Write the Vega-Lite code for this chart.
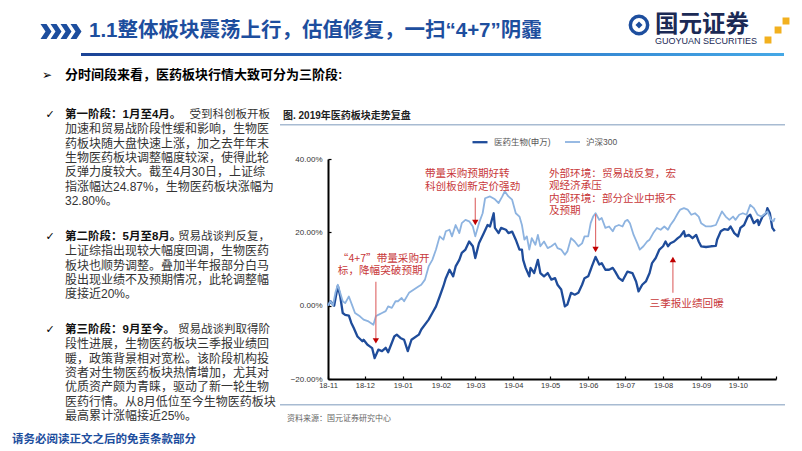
{
"$schema": "https://vega.github.io/schema/vega-lite/v6.json",
"padding": 0,
"background": "white",
"spacing": 0,
"resolve": {"scale": {"color": "independent", "strokeWidth": "independent", "shape": "independent"}},
"config": {"view": {"stroke": null}, "concat": {"spacing": 0}, "font": "Liberation Sans, Noto Sans CJK SC"},
"datasets": {
"prices": [
{"date":"2018-11-01","series":"医药生物(申万)","value":0},{"date":"2018-11-03","series":"医药生物(申万)","value":1.2},{"date":"2018-11-06","series":"医药生物(申万)","value":0},{"date":"2018-11-09","series":"医药生物(申万)","value":5.4},{"date":"2018-11-11","series":"医药生物(申万)","value":2.5},{"date":"2018-11-13","series":"医药生物(申万)","value":-2},{"date":"2018-11-15","series":"医药生物(申万)","value":-2.5},{"date":"2018-11-18","series":"医药生物(申万)","value":-2.7},{"date":"2018-11-20","series":"医药生物(申万)","value":-4.7},{"date":"2018-11-22","series":"医药生物(申万)","value":-6.1},{"date":"2018-11-25","series":"医药生物(申万)","value":-8.4},{"date":"2018-11-29","series":"医药生物(申万)","value":-9.7},{"date":"2018-11-30","series":"医药生物(申万)","value":-9.3},{"date":"2018-12-03","series":"医药生物(申万)","value":-10.6},{"date":"2018-12-05","series":"医药生物(申万)","value":-11.1},{"date":"2018-12-07","series":"医药生物(申万)","value":-11.6},{"date":"2018-12-09","series":"医药生物(申万)","value":-14.3},{"date":"2018-12-12","series":"医药生物(申万)","value":-12},{"date":"2018-12-15","series":"医药生物(申万)","value":-12.4},{"date":"2018-12-18","series":"医药生物(申万)","value":-11.5},{"date":"2018-12-20","series":"医药生物(申万)","value":-12.7},{"date":"2018-12-25","series":"医药生物(申万)","value":-8.4},{"date":"2018-12-27","series":"医药生物(申万)","value":-7.9},{"date":"2018-12-30","series":"医药生物(申万)","value":-8.8},{"date":"2019-01-02","series":"医药生物(申万)","value":-9.3},{"date":"2019-01-05","series":"医药生物(申万)","value":-12.4},{"date":"2019-01-08","series":"医药生物(申万)","value":-9.3},{"date":"2019-01-14","series":"医药生物(申万)","value":-7.9},{"date":"2019-01-16","series":"医药生物(申万)","value":-6.5},{"date":"2019-01-22","series":"医药生物(申万)","value":-3.8},{"date":"2019-01-25","series":"医药生物(申万)","value":-2},{"date":"2019-01-28","series":"医药生物(申万)","value":-0.2},{"date":"2019-01-31","series":"医药生物(申万)","value":2.5},{"date":"2019-02-03","series":"医药生物(申万)","value":5.3},{"date":"2019-02-05","series":"医药生物(申万)","value":7.5},{"date":"2019-02-08","series":"医药生物(申万)","value":9.8},{"date":"2019-02-11","series":"医药生物(申万)","value":8},{"date":"2019-02-13","series":"医药生物(申万)","value":10.7},{"date":"2019-02-16","series":"医药生物(申万)","value":12.5},{"date":"2019-02-18","series":"医药生物(申万)","value":14.4},{"date":"2019-02-21","series":"医药生物(申万)","value":15.3},{"date":"2019-02-24","series":"医药生物(申万)","value":17.5},{"date":"2019-02-27","series":"医药生物(申万)","value":16.2},{"date":"2019-03-01","series":"医药生物(申万)","value":13},{"date":"2019-03-04","series":"医药生物(申万)","value":17},{"date":"2019-03-08","series":"医药生物(申万)","value":19.8},{"date":"2019-03-11","series":"医药生物(申万)","value":22},{"date":"2019-03-13","series":"医药生物(申万)","value":21.6},{"date":"2019-03-16","series":"医药生物(申万)","value":25.2},{"date":"2019-03-17","series":"医药生物(申万)","value":21.2},{"date":"2019-03-20","series":"医药生物(申万)","value":19.8},{"date":"2019-03-22","series":"医药生物(申万)","value":21.2},{"date":"2019-03-26","series":"医药生物(申万)","value":20.7},{"date":"2019-03-28","series":"医药生物(申万)","value":19.8},{"date":"2019-03-31","series":"医药生物(申万)","value":20.2},{"date":"2019-04-03","series":"医药生物(申万)","value":18},{"date":"2019-04-06","series":"医药生物(申万)","value":15.3},{"date":"2019-04-08","series":"医药生物(申万)","value":15.3},{"date":"2019-04-09","series":"医药生物(申万)","value":12.5},{"date":"2019-04-11","series":"医药生物(申万)","value":10.3},{"date":"2019-04-14","series":"医药生物(申万)","value":8},{"date":"2019-04-15","series":"医药生物(申万)","value":10.3},{"date":"2019-04-18","series":"医药生物(申万)","value":8.9},{"date":"2019-04-21","series":"医药生物(申万)","value":12.5},{"date":"2019-04-23","series":"医药生物(申万)","value":8.9},{"date":"2019-04-26","series":"医药生物(申万)","value":8},{"date":"2019-04-29","series":"医药生物(申万)","value":8.9},{"date":"2019-05-02","series":"医药生物(申万)","value":7.1},{"date":"2019-05-05","series":"医药生物(申万)","value":7.5},{"date":"2019-05-07","series":"医药生物(申万)","value":5.7},{"date":"2019-05-10","series":"医药生物(申万)","value":4.4},{"date":"2019-05-13","series":"医药生物(申万)","value":-0.2},{"date":"2019-05-15","series":"医药生物(申万)","value":0.3},{"date":"2019-05-18","series":"医药生物(申万)","value":3.5},{"date":"2019-05-21","series":"医药生物(申万)","value":3},{"date":"2019-05-24","series":"医药生物(申万)","value":3.5},{"date":"2019-05-27","series":"医药生物(申万)","value":5.7},{"date":"2019-05-29","series":"医药生物(申万)","value":7.5},{"date":"2019-06-01","series":"医药生物(申万)","value":8},{"date":"2019-06-03","series":"医药生物(申万)","value":9.8},{"date":"2019-06-04","series":"医药生物(申万)","value":10.7},{"date":"2019-06-07","series":"医药生物(申万)","value":13.3},{"date":"2019-06-10","series":"医药生物(申万)","value":11.2},{"date":"2019-06-12","series":"医药生物(申万)","value":11.6},{"date":"2019-06-15","series":"医药生物(申万)","value":9.8},{"date":"2019-06-18","series":"医药生物(申万)","value":9.8},{"date":"2019-06-21","series":"医药生物(申万)","value":10.3},{"date":"2019-06-23","series":"医药生物(申万)","value":9.3},{"date":"2019-06-26","series":"医药生物(申万)","value":7.5},{"date":"2019-06-29","series":"医药生物(申万)","value":6.8},{"date":"2019-07-03","series":"医药生物(申万)","value":9.3},{"date":"2019-07-07","series":"医药生物(申万)","value":8.9},{"date":"2019-07-10","series":"医药生物(申万)","value":6.6},{"date":"2019-07-12","series":"医药生物(申万)","value":3.9},{"date":"2019-07-15","series":"医药生物(申万)","value":5.7},{"date":"2019-07-18","series":"医药生物(申万)","value":6.6},{"date":"2019-07-21","series":"医药生物(申万)","value":8.9},{"date":"2019-07-23","series":"医药生物(申万)","value":11.6},{"date":"2019-07-26","series":"医药生物(申万)","value":13},{"date":"2019-07-29","series":"医药生物(申万)","value":15.3},{"date":"2019-08-01","series":"医药生物(申万)","value":16.2},{"date":"2019-08-03","series":"医药生物(申万)","value":17.5},{"date":"2019-08-05","series":"医药生物(申万)","value":16.2},{"date":"2019-08-07","series":"医药生物(申万)","value":17},{"date":"2019-08-10","series":"医药生物(申万)","value":17.5},{"date":"2019-08-13","series":"医药生物(申万)","value":18.4},{"date":"2019-08-15","series":"医药生物(申万)","value":18.9},{"date":"2019-08-18","series":"医药生物(申万)","value":20.3},{"date":"2019-08-19","series":"医药生物(申万)","value":18.9},{"date":"2019-08-22","series":"医药生物(申万)","value":19.3},{"date":"2019-08-25","series":"医药生物(申万)","value":18.4},{"date":"2019-08-28","series":"医药生物(申万)","value":19.3},{"date":"2019-08-30","series":"医药生物(申万)","value":17.5},{"date":"2019-09-01","series":"医药生物(申万)","value":16.2},{"date":"2019-09-05","series":"医药生物(申万)","value":16},{"date":"2019-09-09","series":"医药生物(申万)","value":16.2},{"date":"2019-09-13","series":"医药生物(申万)","value":16.3},{"date":"2019-09-14","series":"医药生物(申万)","value":18},{"date":"2019-09-17","series":"医药生物(申万)","value":20.3},{"date":"2019-09-20","series":"医药生物(申万)","value":20.9},{"date":"2019-09-23","series":"医药生物(申万)","value":20.7},{"date":"2019-09-25","series":"医药生物(申万)","value":21.6},{"date":"2019-09-28","series":"医药生物(申万)","value":19.8},{"date":"2019-10-01","series":"医药生物(申万)","value":18.9},{"date":"2019-10-03","series":"医药生物(申万)","value":21.2},{"date":"2019-10-06","series":"医药生物(申万)","value":22},{"date":"2019-10-09","series":"医药生物(申万)","value":24.3},{"date":"2019-10-11","series":"医药生物(申万)","value":24.8},{"date":"2019-10-14","series":"医药生物(申万)","value":22.5},{"date":"2019-10-17","series":"医药生物(申万)","value":23.4},{"date":"2019-10-18","series":"医药生物(申万)","value":22},{"date":"2019-10-21","series":"医药生物(申万)","value":24.3},{"date":"2019-10-24","series":"医药生物(申万)","value":25.2},{"date":"2019-10-25","series":"医药生物(申万)","value":26.6},{"date":"2019-10-27","series":"医药生物(申万)","value":25.2},{"date":"2019-10-29","series":"医药生物(申万)","value":21.2},{"date":"2019-10-31","series":"医药生物(申万)","value":20.3},
{"date":"2018-11-01","series":"沪深300","value":0},{"date":"2018-11-03","series":"沪深300","value":1.2},{"date":"2018-11-05","series":"沪深300","value":0},{"date":"2018-11-07","series":"沪深300","value":3.5},{"date":"2018-11-09","series":"沪深300","value":5.7},{"date":"2018-11-13","series":"沪深300","value":1.2},{"date":"2018-11-15","series":"沪深300","value":0.7},{"date":"2018-11-18","series":"沪深300","value":2.5},{"date":"2018-11-21","series":"沪深300","value":-0.2},{"date":"2018-11-23","series":"沪深300","value":-2},{"date":"2018-11-27","series":"沪深300","value":-2.9},{"date":"2018-11-30","series":"沪深300","value":-3.8},{"date":"2018-12-04","series":"沪深300","value":-4.3},{"date":"2018-12-08","series":"沪深300","value":-5.2},{"date":"2018-12-10","series":"沪深300","value":-2.9},{"date":"2018-12-12","series":"沪深300","value":-2.5},{"date":"2018-12-15","series":"沪深300","value":-2},{"date":"2018-12-18","series":"沪深300","value":-1.5},{"date":"2018-12-20","series":"沪深300","value":-0.2},{"date":"2018-12-23","series":"沪深300","value":-0.6},{"date":"2018-12-26","series":"沪深300","value":1.2},{"date":"2018-12-28","series":"沪深300","value":1.2},{"date":"2018-12-31","series":"沪深300","value":2.1},{"date":"2019-01-02","series":"沪深300","value":1.2},{"date":"2019-01-06","series":"沪深300","value":3.5},{"date":"2019-01-10","series":"沪深300","value":4.4},{"date":"2019-01-14","series":"沪深300","value":5.3},{"date":"2019-01-16","series":"沪深300","value":5.7},{"date":"2019-01-19","series":"沪深300","value":7.1},{"date":"2019-01-22","series":"沪深300","value":10.7},{"date":"2019-01-25","series":"沪深300","value":12.5},{"date":"2019-01-28","series":"沪深300","value":15.3},{"date":"2019-01-31","series":"沪深300","value":18.9},{"date":"2019-02-03","series":"沪深300","value":18},{"date":"2019-02-05","series":"沪深300","value":20.3},{"date":"2019-02-08","series":"沪深300","value":20.7},{"date":"2019-02-10","series":"沪深300","value":18.9},{"date":"2019-02-13","series":"沪深300","value":22},{"date":"2019-02-16","series":"沪深300","value":19.8},{"date":"2019-02-18","series":"沪深300","value":22.5},{"date":"2019-02-21","series":"沪深300","value":23.4},{"date":"2019-02-24","series":"沪深300","value":23},{"date":"2019-02-27","series":"沪深300","value":21.6},{"date":"2019-03-01","series":"沪深300","value":18.9},{"date":"2019-03-04","series":"沪深300","value":22.5},{"date":"2019-03-07","series":"沪深300","value":25.2},{"date":"2019-03-09","series":"沪深300","value":29.3},{"date":"2019-03-13","series":"沪深300","value":29.8},{"date":"2019-03-17","series":"沪深300","value":29},{"date":"2019-03-20","series":"沪深300","value":28},{"date":"2019-03-23","series":"沪深300","value":29.8},{"date":"2019-03-25","series":"沪深300","value":31.2},{"date":"2019-03-28","series":"沪深300","value":29.8},{"date":"2019-03-31","series":"沪深300","value":28.9},{"date":"2019-04-03","series":"沪深300","value":25.2},{"date":"2019-04-06","series":"沪深300","value":24.3},{"date":"2019-04-08","series":"沪深300","value":22},{"date":"2019-04-10","series":"沪深300","value":18},{"date":"2019-04-12","series":"沪深300","value":18.9},{"date":"2019-04-14","series":"沪深300","value":15.3},{"date":"2019-04-16","series":"沪深300","value":18.4},{"date":"2019-04-19","series":"沪深300","value":16.6},{"date":"2019-04-21","series":"沪深300","value":19.3},{"date":"2019-04-23","series":"沪深300","value":16.2},{"date":"2019-04-26","series":"沪深300","value":17.5},{"date":"2019-04-29","series":"沪深300","value":15.7},{"date":"2019-05-02","series":"沪深300","value":16.2},{"date":"2019-05-05","series":"沪深300","value":17},{"date":"2019-05-07","series":"沪深300","value":15.7},{"date":"2019-05-10","series":"沪深300","value":15.3},{"date":"2019-05-13","series":"沪深300","value":13.9},{"date":"2019-05-15","series":"沪深300","value":14.8},{"date":"2019-05-18","series":"沪深300","value":18.4},{"date":"2019-05-21","series":"沪深300","value":17.5},{"date":"2019-05-24","series":"沪深300","value":16.2},{"date":"2019-05-27","series":"沪深300","value":17},{"date":"2019-05-29","series":"沪深300","value":18.9},{"date":"2019-06-01","series":"沪深300","value":18.9},{"date":"2019-06-03","series":"沪深300","value":22.5},{"date":"2019-06-05","series":"沪深300","value":24.3},{"date":"2019-06-07","series":"沪深300","value":25.2},{"date":"2019-06-10","series":"沪深300","value":23.4},{"date":"2019-06-12","series":"沪深300","value":23.9},{"date":"2019-06-15","series":"沪深300","value":21.2},{"date":"2019-06-18","series":"沪深300","value":21.6},{"date":"2019-06-21","series":"沪深300","value":20.3},{"date":"2019-06-23","series":"沪深300","value":21.6},{"date":"2019-06-26","series":"沪深300","value":22},{"date":"2019-06-29","series":"沪深300","value":21.6},{"date":"2019-07-01","series":"沪深300","value":23},{"date":"2019-07-03","series":"沪深300","value":23.4},{"date":"2019-07-05","series":"沪深300","value":22.5},{"date":"2019-07-08","series":"沪深300","value":19.3},{"date":"2019-07-11","series":"沪深300","value":17},{"date":"2019-07-13","series":"沪深300","value":15.3},{"date":"2019-07-16","series":"沪深300","value":16.2},{"date":"2019-07-19","series":"沪深300","value":17.5},{"date":"2019-07-21","series":"沪深300","value":18},{"date":"2019-07-24","series":"沪深300","value":19.8},{"date":"2019-07-27","series":"沪深300","value":21.2},{"date":"2019-07-30","series":"沪深300","value":20.7},{"date":"2019-08-02","series":"沪深300","value":21.6},{"date":"2019-08-05","series":"沪深300","value":20.7},{"date":"2019-08-07","series":"沪深300","value":22},{"date":"2019-08-10","series":"沪深300","value":23.4},{"date":"2019-08-13","series":"沪深300","value":25.2},{"date":"2019-08-15","series":"沪深300","value":26.2},{"date":"2019-08-18","series":"沪深300","value":26.6},{"date":"2019-08-21","series":"沪深300","value":26.2},{"date":"2019-08-24","series":"沪深300","value":24.8},{"date":"2019-08-27","series":"沪深300","value":25.2},{"date":"2019-08-30","series":"沪深300","value":24.3},{"date":"2019-09-01","series":"沪深300","value":22.5},{"date":"2019-09-05","series":"沪深300","value":21.6},{"date":"2019-09-09","series":"沪深300","value":21.6},{"date":"2019-09-13","series":"沪深300","value":22},{"date":"2019-09-16","series":"沪深300","value":24.3},{"date":"2019-09-18","series":"沪深300","value":25.7},{"date":"2019-09-21","series":"沪深300","value":24.3},{"date":"2019-09-24","series":"沪深300","value":23.4},{"date":"2019-09-27","series":"沪深300","value":24.3},{"date":"2019-09-29","series":"沪深300","value":23.4},{"date":"2019-10-02","series":"沪深300","value":24.8},{"date":"2019-10-05","series":"沪深300","value":25.2},{"date":"2019-10-08","series":"沪深300","value":24.8},{"date":"2019-10-11","series":"沪深300","value":27.5},{"date":"2019-10-14","series":"沪深300","value":26.6},{"date":"2019-10-17","series":"沪深300","value":24.8},{"date":"2019-10-20","series":"沪深300","value":24.3},{"date":"2019-10-22","series":"沪深300","value":24.8},{"date":"2019-10-25","series":"沪深300","value":25.7},{"date":"2019-10-28","series":"沪深300","value":23.4},{"date":"2019-10-30","series":"沪深300","value":23},{"date":"2019-10-31","series":"沪深300","value":23.9}
],
"notes": [
{"date":"2019-01-19","value":35.8,"text":"带量采购预期好转\n科创板创新定价强劲"},
{"date":"2018-11-09","value":12.8,"text":"“4+7”带量采购开\n标，降幅突破预期"},
{"date":"2019-04-30","value":35.9,"text":"外部环境：贸易战反复，宏\n观经济承压\n内部环境：部分企业中报不\n及预期"},
{"date":"2019-07-21","value":0.5,"text":"三季报业绩回暖"}
],
"arrows": [
{"date":"2018-12-10","start":6.5,"tip":-9.6,"dir":"down"},
{"date":"2019-03-01","start":29.4,"tip":22.7,"dir":"down"},
{"date":"2019-06-07","start":25.0,"tip":15.3,"dir":"down"},
{"date":"2019-08-09","start":3.5,"tip":12.6,"dir":"up"}
],
"para": [
{"block":0,"line":0,"role":"mark","text":"➢"},
{"block":0,"line":0,"role":"lead","text":"分时间段来看，医药板块行情大致可分为三阶段:"},
{"block":1,"line":0,"role":"mark","text":"✓"},
{"block":1,"line":0,"role":"lead","text":"第一阶段：1月至4月。"},
{"block":1,"line":0,"role":"tail","text":"受到科创板开板"},
{"block":1,"line":1,"role":"body","text":"加速和贸易战阶段性缓和影响，生物医"},
{"block":1,"line":2,"role":"body","text":"药板块随大盘快速上涨，加之去年年末"},
{"block":1,"line":3,"role":"body","text":"生物医药板块调整幅度较深，使得此轮"},
{"block":1,"line":4,"role":"body","text":"反弹力度较大。截至4月30日，上证综"},
{"block":1,"line":5,"role":"body","text":"指涨幅达24.87%，生物医药板块涨幅为"},
{"block":1,"line":6,"role":"body","text":"32.80%。"},
{"block":2,"line":0,"role":"mark","text":"✓"},
{"block":2,"line":0,"role":"lead","text":"第二阶段：5月至8月。"},
{"block":2,"line":0,"role":"tail","text":"贸易战谈判反复，"},
{"block":2,"line":1,"role":"body","text":"上证综指出现较大幅度回调，生物医药"},
{"block":2,"line":2,"role":"body","text":"板块也顺势调整。叠加半年报部分白马"},
{"block":2,"line":3,"role":"body","text":"股出现业绩不及预期情况，此轮调整幅"},
{"block":2,"line":4,"role":"body","text":"度接近20%。"},
{"block":3,"line":0,"role":"mark","text":"✓"},
{"block":3,"line":0,"role":"lead","text":"第三阶段：9月至今。"},
{"block":3,"line":0,"role":"tail","text":"贸易战谈判取得阶"},
{"block":3,"line":1,"role":"body","text":"段性进展，生物医药板块三季报业绩回"},
{"block":3,"line":2,"role":"body","text":"暖，政策背景相对宽松。该阶段机构投"},
{"block":3,"line":3,"role":"body","text":"资者对生物医药板块热情增加，尤其对"},
{"block":3,"line":4,"role":"body","text":"优质资产颇为青睐，驱动了新一轮生物"},
{"block":3,"line":5,"role":"body","text":"医药行情。从8月低位至今生物医药板块"},
{"block":3,"line":6,"role":"body","text":"最高累计涨幅接近25%。"},
{"block":4,"line":0,"role":"footer","text":"请务必阅读正文之后的免责条款部分"}
]
},
"vconcat": [
{"hconcat": [
 {"width": 40, "height": 52, "data": {"values": []}, "mark": "point"},
 {"vconcat": [
   {"width": 40, "height": 10, "data": {"values": []}, "mark": "point"},
   {"width": 40, "height": 43, "data": {"values": [{}]}, "mark": {"type": "point", "filled": true, "color": "#1D4E9E", "opacity": 1, "size": 1600, "shape": "M-1.025,-0.375L-0.725,-0.375L-0.475,0L-0.725,0.375L-1.025,0.375L-0.775,0ZM-0.525,-0.375L-0.225,-0.375L0.025,0L-0.225,0.375L-0.525,0.375L-0.275,0ZM-0.025,-0.375L0.275,-0.375L0.525,0L0.275,0.375L-0.025,0.375L0.225,0ZM0.475,-0.375L0.775,-0.375L1.025,0L0.775,0.375L0.475,0.375L0.725,0Z"}, "encoding": {}}
 ], "spacing": 0},
 {"width": 541, "height": 52, "data": {"values": []}, "mark": "point",
  "title": {"text": "1.1整体板块震荡上行，估值修复，一扫“4+7”阴霾", "anchor": "start", "frame": "group", "orient": "top", "offset": -41, "dx": 7, "fontSize": 20.5, "fontWeight": "bold", "color": "#1D4E9E", "font": "Liberation Sans, Noto Sans CJK SC"}},
 {"width": 24, "height": 50, "data": {"values": [{}]}, "layer": [
   {"mark": {"type": "point", "shape": "circle", "filled": false, "color": "#1D4E9E", "strokeWidth": 3.5, "size": 300, "opacity": 1}, "encoding": {}},
   {"mark": {"type": "point", "shape": "diamond", "filled": true, "color": "#1D4E9E", "size": 50, "opacity": 1}, "encoding": {}}
 ]},
 {"width": 107, "height": 52, "data": {"values": []}, "mark": "point",
  "title": {"text": "国元证券", "subtitle": "GUOYUAN SECURITIES", "anchor": "start", "frame": "group", "orient": "top", "offset": -46, "dx": 0, "fontSize": 23.5, "fontWeight": "bold", "color": "#1B2A55", "font": "Liberation Sans, Noto Sans CJK SC", "subtitleFontSize": 9, "subtitleColor": "#1B2A55", "subtitleFont": "Liberation Sans", "subtitlePadding": 1}},
 {"vconcat": [
   {"width": 30, "height": 15, "data": {"values": []}, "mark": "point"},
   {"width": 30, "height": 32, "data": {"values": [{}]}, "mark": {"type": "point", "filled": true, "color": "#F2B01E", "opacity": 1, "size": 900, "shape": "M0.37,-0.9L0.83,-0.9L0.83,-0.44L0.37,-0.44ZM-0.16,-0.3L0.3,-0.3L0.3,0.16L-0.16,0.16ZM-0.83,0.37L-0.37,0.37L-0.37,0.83L-0.83,0.83Z"}, "encoding": {}}
 ], "spacing": 0}
], "spacing": 0},
{"hconcat": [
 {"width": 81, "height": 3, "data": {"values": []}, "mark": "point"},
 {"width": 703, "height": 3, "data": {"values": [{}]}, "mark": {"type": "rect", "color": {"x1": 0, "y1": 0, "x2": 1, "y2": 0, "gradient": "linear", "stops": [{"offset": 0, "color": "#1B4396"}, {"offset": 0.6, "color": "#2F7BCB"}, {"offset": 1, "color": "#45A8E6"}]}}, "encoding": {}}
], "spacing": 0},
{"hconcat": [
 {"width": 40, "height": 38, "data": {"values": []}, "mark": "point"},
 {"width": 14, "height": 38, "data": {"name": "para"}, "transform": [{"filter": "datum.block==0 && datum.role=='mark'"}], "mark": {"type": "text", "fontSize": 12, "font": "DejaVu Sans", "color": "#000"}, "encoding": {"text": {"field": "text"}}},
 {"width": 11, "height": 38, "data": {"values": []}, "mark": "point"},
 {"width": 215, "height": 38, "data": {"name": "para"}, "transform": [{"filter": "datum.block==0 && datum.role=='lead'"}], "mark": {"type": "text", "align": "left", "baseline": "middle", "fontSize": 13, "fontWeight": "bold", "color": "#000"}, "encoding": {"x": {"datum": "start", "type": "nominal", "scale": {"type": "point", "domain": ["start", "end"], "padding": 0}, "axis": null}, "text": {"field": "text"}}}
], "spacing": 0},
{"hconcat": [
 {"vconcat": [
  {"width": 280, "height": 14, "data": {"values": []}, "mark": "point"},
  {"hconcat": [
   {"width": 45, "height": 1, "data": {"values": []}, "mark": "point"},
   {"width": 10, "height": 14.3, "data": {"name": "para"}, "transform": [{"filter": "datum.block==1 && datum.role=='mark'"}], "mark": {"type": "text", "fontSize": 11, "font": "DejaVu Sans", "color": "#000"}, "encoding": {"text": {"field": "text"}}},
   {"width": 10, "height": 1, "data": {"values": []}, "mark": "point"},
   {"width": 205, "height": 100.1, "data": {"name": "para"}, "transform": [{"filter": "datum.block==1"}],
    "encoding": {"y": {"field": "line", "type": "ordinal", "scale": {"type": "point", "padding": 0.5, "domain": [0,1,2,3,4,5,6]}, "axis": null}, "text": {"field": "text"}},
    "layer": [
     {"transform": [{"filter": "datum.role=='lead'"}], "mark": {"type": "text", "align": "left", "baseline": "middle", "fontSize": 11.5, "fontWeight": "bold", "color": "#111"}, "encoding": {"x": {"datum": "start", "type": "nominal", "scale": {"type": "point", "domain": ["start", "end"], "padding": 0}, "axis": null}}},
     {"transform": [{"filter": "datum.role=='body'"}], "mark": {"type": "text", "align": "left", "baseline": "middle", "fontSize": 12, "color": "#333"}, "encoding": {"x": {"datum": "start", "type": "nominal", "scale": {"type": "point", "domain": ["start", "end"], "padding": 0}, "axis": null}}},
     {"transform": [{"filter": "datum.role=='tail'"}], "mark": {"type": "text", "align": "right", "baseline": "middle", "fontSize": 11.5, "color": "#333"}, "encoding": {"x": {"datum": "end", "type": "nominal", "scale": {"type": "point", "domain": ["start", "end"], "padding": 0}, "axis": null}}}
    ]}
  ], "spacing": 0},
  {"width": 280, "height": 21, "data": {"values": []}, "mark": "point"},
  {"hconcat": [
   {"width": 45, "height": 1, "data": {"values": []}, "mark": "point"},
   {"width": 10, "height": 14.3, "data": {"name": "para"}, "transform": [{"filter": "datum.block==2 && datum.role=='mark'"}], "mark": {"type": "text", "fontSize": 11, "font": "DejaVu Sans", "color": "#000"}, "encoding": {"text": {"field": "text"}}},
   {"width": 10, "height": 1, "data": {"values": []}, "mark": "point"},
   {"width": 205, "height": 71.5, "data": {"name": "para"}, "transform": [{"filter": "datum.block==2"}],
    "encoding": {"y": {"field": "line", "type": "ordinal", "scale": {"type": "point", "padding": 0.5, "domain": [0,1,2,3,4]}, "axis": null}, "text": {"field": "text"}},
    "layer": [
     {"transform": [{"filter": "datum.role=='lead'"}], "mark": {"type": "text", "align": "left", "baseline": "middle", "fontSize": 11.5, "fontWeight": "bold", "color": "#111"}, "encoding": {"x": {"datum": "start", "type": "nominal", "scale": {"type": "point", "domain": ["start", "end"], "padding": 0}, "axis": null}}},
     {"transform": [{"filter": "datum.role=='body'"}], "mark": {"type": "text", "align": "left", "baseline": "middle", "fontSize": 12, "color": "#333"}, "encoding": {"x": {"datum": "start", "type": "nominal", "scale": {"type": "point", "domain": ["start", "end"], "padding": 0}, "axis": null}}},
     {"transform": [{"filter": "datum.role=='tail'"}], "mark": {"type": "text", "align": "right", "baseline": "middle", "fontSize": 11.5, "color": "#333"}, "encoding": {"x": {"datum": "end", "type": "nominal", "scale": {"type": "point", "domain": ["start", "end"], "padding": 0}, "axis": null}}}
    ]}
  ], "spacing": 0},
  {"width": 280, "height": 20.5, "data": {"values": []}, "mark": "point"},
  {"hconcat": [
   {"width": 45, "height": 1, "data": {"values": []}, "mark": "point"},
   {"width": 10, "height": 14.3, "data": {"name": "para"}, "transform": [{"filter": "datum.block==3 && datum.role=='mark'"}], "mark": {"type": "text", "fontSize": 11, "font": "DejaVu Sans", "color": "#000"}, "encoding": {"text": {"field": "text"}}},
   {"width": 10, "height": 1, "data": {"values": []}, "mark": "point"},
   {"width": 205, "height": 100.1, "data": {"name": "para"}, "transform": [{"filter": "datum.block==3"}],
    "encoding": {"y": {"field": "line", "type": "ordinal", "scale": {"type": "point", "padding": 0.5, "domain": [0,1,2,3,4,5,6]}, "axis": null}, "text": {"field": "text"}},
    "layer": [
     {"transform": [{"filter": "datum.role=='lead'"}], "mark": {"type": "text", "align": "left", "baseline": "middle", "fontSize": 11.5, "fontWeight": "bold", "color": "#111"}, "encoding": {"x": {"datum": "start", "type": "nominal", "scale": {"type": "point", "domain": ["start", "end"], "padding": 0}, "axis": null}}},
     {"transform": [{"filter": "datum.role=='body'"}], "mark": {"type": "text", "align": "left", "baseline": "middle", "fontSize": 12, "color": "#333"}, "encoding": {"x": {"datum": "start", "type": "nominal", "scale": {"type": "point", "domain": ["start", "end"], "padding": 0}, "axis": null}}},
     {"transform": [{"filter": "datum.role=='tail'"}], "mark": {"type": "text", "align": "right", "baseline": "middle", "fontSize": 11.5, "color": "#333"}, "encoding": {"x": {"datum": "end", "type": "nominal", "scale": {"type": "point", "domain": ["start", "end"], "padding": 0}, "axis": null}}}
    ]}
  ], "spacing": 0},
  {"hconcat": [
   {"width": 12, "height": 31, "data": {"values": []}, "mark": "point"},
   {"width": 200, "height": 31, "data": {"name": "para"}, "transform": [{"filter": "datum.role=='footer'"}], "mark": {"type": "text", "align": "left", "baseline": "middle", "fontSize": 11.5, "fontWeight": "bold", "color": "#1D4E9E"}, "encoding": {"x": {"datum": "start", "type": "nominal", "scale": {"type": "point", "domain": ["start", "end"], "padding": 0}, "axis": null}, "text": {"field": "text"}}}
  ], "spacing": 0}
 ], "spacing": 0},
 {"vconcat": [
  {"width": 505, "height": 30, "data": {"values": []}, "mark": "point",
   "title": {"text": "图. 2019年医药板块走势复盘", "anchor": "start", "frame": "group", "orient": "top", "offset": -27, "dx": 3, "fontSize": 10, "fontWeight": "bold", "color": "#222"}},
  {"width": 505, "height": 1.5, "data": {"values": [{}]}, "mark": {"type": "rect", "color": "#A8BBD2"}, "encoding": {}},
  {"width": 505, "height": 6.5, "data": {"values": []}, "mark": "point"},
  {"hconcat": [
   {"width": 10, "height": 220, "data": {"values": []}, "mark": "point"},
   {"width": 448, "height": 220,
    "layer": [
     {"data": {"name": "prices"}, "mark": {"type": "line", "strokeJoin": "round"},
      "encoding": {
       "x": {"field": "date", "type": "temporal", "title": null,
             "scale": {"type": "utc", "domain": [{"year": 2018, "month": 11, "date": 1, "utc": true}, {"year": 2019, "month": 11, "date": 1, "utc": true}]},
             "axis": {"tickCount": {"interval": "month", "step": 1}, "labelExpr": "utcFormat(datum.value,'%Y-%m')=='2019-11' ? '' : utcFormat(datum.value,'%y-%m')", "grid": false, "domainColor": "#000", "domainWidth": 2, "tickColor": "#000", "tickWidth": 1.2, "tickSize": -3, "labelPadding": 5, "labelFontSize": 7.5, "labelFont": "Liberation Sans", "labelColor": "#333", "labelOverlap": false, "labelFlush": false}},
       "y": {"field": "value", "type": "quantitative", "title": null,
             "scale": {"domain": [-20, 40], "nice": false, "zero": false},
             "axis": {"values": [-20, -10, 0, 10, 20, 30, 40], "labelExpr": "format(datum.value,'.2f')+'%'", "grid": false, "domainColor": "#000", "domainWidth": 2, "tickColor": "#000", "tickWidth": 1.2, "tickSize": -3, "labelPadding": 9, "labelFontSize": 8, "labelFont": "Liberation Sans", "labelColor": "#333", "labelFlush": false}},
       "color": {"field": "series", "type": "nominal", "scale": {"domain": ["医药生物(申万)", "沪深300"], "range": ["#1F4C9A", "#8DB3E0"]},
                 "legend": {"orient": "none", "legendX": 143, "legendY": -26, "direction": "horizontal", "title": null, "symbolType": "stroke", "symbolSize": 225, "symbolStrokeWidth": 2.5, "labelFontSize": 8.5, "labelFont": "Liberation Sans, Noto Sans CJK SC", "labelColor": "#555", "columnPadding": 10, "labelOffset": 5}},
       "strokeWidth": {"field": "series", "type": "nominal", "scale": {"domain": ["医药生物(申万)", "沪深300"], "range": [2.3, 1.8]}, "legend": null}
      }},
     {"data": {"name": "arrows"}, "mark": {"type": "rule", "color": "#E07070", "strokeWidth": 1.2},
      "encoding": {"x": {"field": "date", "type": "temporal", "title": null}, "y": {"field": "start", "type": "quantitative", "title": null}, "y2": {"field": "tip"}}},
     {"data": {"name": "arrows"}, "mark": {"type": "point", "filled": true, "color": "#C00000", "size": 40, "opacity": 1},
      "encoding": {"x": {"field": "date", "type": "temporal", "title": null}, "y": {"field": "tip", "type": "quantitative", "title": null}, "shape": {"field": "dir", "type": "nominal", "scale": {"domain": ["down", "up"], "range": ["triangle-down", "triangle-up"]}, "legend": null}}},
     {"data": {"name": "notes"}, "mark": {"type": "text", "align": "left", "baseline": "middle", "color": "#C8383A", "fontSize": 10.6, "lineHeight": 12.4, "lineBreak": "\n", "font": "Noto Sans CJK SC"},
      "encoding": {"x": {"field": "date", "type": "temporal", "title": null}, "y": {"field": "value", "type": "quantitative", "title": null}, "text": {"field": "text"}}}
    ]}
  ], "spacing": 0, "resolve": {"scale": {"color": "independent", "strokeWidth": "independent", "shape": "independent"}}},
  {"width": 505, "height": 15, "data": {"values": []}, "mark": "point"},
  {"width": 505, "height": 1.5, "data": {"values": [{}]}, "mark": {"type": "rect", "color": "#A8BBD2"}, "encoding": {}},
  {"width": 505, "height": 19, "data": {"values": []}, "mark": "point",
   "title": {"text": "资料来源：国元证券研究中心", "anchor": "start", "frame": "group", "orient": "top", "offset": -17, "dx": 7, "fontSize": 8, "fontWeight": "normal", "color": "#666"}}
 ], "spacing": 0, "resolve": {"scale": {"color": "independent", "strokeWidth": "independent", "shape": "independent"}}}
], "spacing": 0, "resolve": {"scale": {"color": "independent", "strokeWidth": "independent", "shape": "independent"}}}
]
}
